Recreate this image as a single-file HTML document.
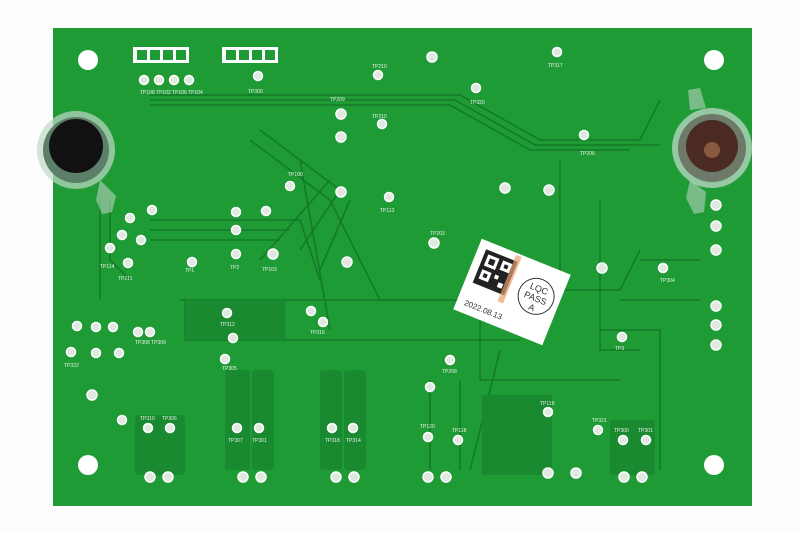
<!DOCTYPE html>
<html><head><style>
html,body{margin:0;padding:0;background:#fff;}
svg{display:block}
text{font-family:"Liberation Sans",sans-serif}
</style></head><body>
<svg width="800" height="533" viewBox="0 0 800 533" xmlns="http://www.w3.org/2000/svg">
<rect width="800" height="533" fill="#fdfdfd"/>
<rect x="53" y="28" width="699" height="478" fill="#1f9b36"/>
<g fill="none" stroke="#147a28" stroke-width="1.6">
<path d="M150 95 L460 95 L540 140 L640 140 L660 100"/>
<path d="M150 100 L455 100 L535 145 L660 145"/>
<path d="M150 105 L450 105 L530 150 L630 150"/>
<path d="M330 180 L260 260 M340 190 L300 250 M350 200 L320 270 M300 160 L330 330"/>
<path d="M150 220 L300 220 L320 280 M150 230 L290 230 M150 240 L280 240"/>
<path d="M260 130 L340 190 M250 140 L330 200 L380 300 L480 300"/>
<path d="M180 300 L480 300 L480 380 L620 380 M185 300 L185 340 L520 340"/>
<path d="M560 160 L560 290 L620 290 L640 250 M600 200 L600 350 L640 350"/>
<path d="M430 380 L430 470 M460 380 L460 470 M500 350 L470 470"/>
<path d="M640 260 L700 260 M620 300 L700 300 M600 330 L660 330 L660 470"/>
<path d="M110 200 L110 260 L130 280 M100 200 L100 300"/>
</g>
<g fill="#198a30">
<rect x="185" y="300" width="100" height="40"/>
<rect x="482" y="395" width="70" height="80"/>
<rect x="225" y="370" width="25" height="100" rx="3"/>
<rect x="252" y="370" width="22" height="100" rx="3"/>
<rect x="320" y="370" width="22" height="100" rx="3"/>
<rect x="344" y="370" width="22" height="100" rx="3"/>
<rect x="135" y="415" width="50" height="60" rx="3"/>
<rect x="610" y="420" width="45" height="55" rx="3"/>
</g>
<g fill="#fff">
<circle cx="88" cy="60" r="10"/><circle cx="714" cy="60" r="10"/>
<circle cx="88" cy="465" r="10"/><circle cx="714" cy="465" r="10"/>
<rect x="133" y="47" width="56" height="16"/><rect x="222" y="47" width="56" height="16"/>
</g>
<g fill="#1f9b36"><rect x="137" y="50" width="10" height="10"/><rect x="150" y="50" width="10" height="10"/><rect x="163" y="50" width="10" height="10"/><rect x="176" y="50" width="10" height="10"/>
<rect x="226" y="50" width="10" height="10"/><rect x="239" y="50" width="10" height="10"/><rect x="252" y="50" width="10" height="10"/><rect x="265" y="50" width="10" height="10"/></g>
<g fill="#dfe9df" stroke="#fff" stroke-width="1.5">
<circle cx="144" cy="80" r="4.5"/><circle cx="159" cy="80" r="4.5"/><circle cx="174" cy="80" r="4.5"/><circle cx="189" cy="80" r="4.5"/><circle cx="258" cy="76" r="4.5"/>
<circle cx="432" cy="57" r="5"/><circle cx="557" cy="52" r="4.5"/><circle cx="476" cy="88" r="4.5"/><circle cx="378" cy="75" r="4.5"/>
<circle cx="341" cy="114" r="5"/><circle cx="341" cy="137" r="5"/><circle cx="382" cy="124" r="4.5"/><circle cx="341" cy="192" r="5"/><circle cx="389" cy="197" r="4.5"/>
<circle cx="290" cy="186" r="4.5"/><circle cx="236" cy="212" r="4.5"/><circle cx="266" cy="211" r="4.5"/><circle cx="236" cy="230" r="4.5"/><circle cx="273" cy="254" r="5"/><circle cx="236" cy="254" r="4.5"/><circle cx="192" cy="262" r="4.5"/>
<circle cx="152" cy="210" r="4.5"/><circle cx="130" cy="218" r="4.5"/><circle cx="122" cy="235" r="4.5"/><circle cx="141" cy="240" r="4.5"/><circle cx="110" cy="248" r="4.5"/><circle cx="128" cy="263" r="4.5"/>
<circle cx="347" cy="262" r="5"/><circle cx="434" cy="243" r="5"/><circle cx="505" cy="188" r="5"/><circle cx="584" cy="135" r="4.5"/><circle cx="602" cy="268" r="5"/><circle cx="663" cy="268" r="4.5"/>
<circle cx="227" cy="313" r="4.5"/><circle cx="311" cy="311" r="4.5"/><circle cx="323" cy="322" r="4.5"/><circle cx="233" cy="338" r="4.5"/><circle cx="225" cy="359" r="4.5"/>
<circle cx="77" cy="326" r="4.5"/><circle cx="96" cy="327" r="4.5"/><circle cx="113" cy="327" r="4.5"/><circle cx="138" cy="332" r="4.5"/><circle cx="150" cy="332" r="4.5"/><circle cx="71" cy="352" r="4.5"/><circle cx="96" cy="353" r="4.5"/><circle cx="119" cy="353" r="4.5"/>
<circle cx="450" cy="360" r="4.5"/><circle cx="430" cy="387" r="4.5"/><circle cx="622" cy="337" r="4.5"/><circle cx="122" cy="420" r="4.5"/>
<circle cx="148" cy="428" r="4.5"/><circle cx="170" cy="428" r="4.5"/><circle cx="237" cy="428" r="4.5"/><circle cx="259" cy="428" r="4.5"/><circle cx="332" cy="428" r="4.5"/><circle cx="353" cy="428" r="4.5"/>
<circle cx="428" cy="437" r="4.5"/><circle cx="458" cy="440" r="4.5"/><circle cx="548" cy="412" r="4.5"/><circle cx="598" cy="430" r="4.5"/><circle cx="623" cy="440" r="4.5"/><circle cx="646" cy="440" r="4.5"/>
<circle cx="150" cy="477" r="5"/><circle cx="168" cy="477" r="5"/><circle cx="243" cy="477" r="5"/><circle cx="261" cy="477" r="5"/><circle cx="336" cy="477" r="5"/><circle cx="354" cy="477" r="5"/><circle cx="428" cy="477" r="5"/><circle cx="446" cy="477" r="5"/><circle cx="548" cy="473" r="5"/><circle cx="576" cy="473" r="5"/><circle cx="624" cy="477" r="5"/><circle cx="642" cy="477" r="5"/>
<circle cx="716" cy="205" r="5"/><circle cx="716" cy="226" r="5"/><circle cx="716" cy="250" r="5"/><circle cx="716" cy="306" r="5"/><circle cx="716" cy="325" r="5"/><circle cx="716" cy="345" r="5"/><circle cx="549" cy="190" r="5"/><circle cx="92" cy="395" r="5"/>
</g>
<g font-size="5" fill="#e8f0e8">
<text x="248" y="93">TP300</text><text x="372" y="68">TP210</text><text x="548" y="67">TP317</text><text x="330" y="101">TP209</text><text x="372" y="118">TP210</text>
<text x="470" y="104">TP320</text><text x="380" y="212">TP113</text><text x="580" y="155">TP206</text><text x="288" y="176">TP100</text><text x="660" y="282">TP304</text>
<text x="262" y="271">TP103</text><text x="230" y="269">TP2</text><text x="185" y="272">TP1</text><text x="118" y="280">TP211</text><text x="100" y="268">TP114</text>
<text x="430" y="235">TP203</text><text x="615" y="350">TP3</text><text x="442" y="373">TP208</text><text x="135" y="344">TP308 TP309</text><text x="64" y="367">TP322</text>
<text x="140" y="420">TP310</text><text x="162" y="420">TP306</text><text x="228" y="442">TP307</text><text x="252" y="442">TP301</text><text x="325" y="442">TP318</text><text x="346" y="442">TP314</text>
<text x="420" y="428">TP120</text><text x="452" y="432">TP118</text><text x="540" y="405">TP119</text><text x="592" y="422">TP321</text><text x="614" y="432">TP300</text><text x="638" y="432">TP301</text>
<text x="220" y="326">TP312</text><text x="310" y="334">TP316</text><text x="222" y="370">TP305</text><text x="690" y="176">TP205</text><text x="140" y="94">TP108 TP102 TP106 TP104</text>
</g>
<g>
<path d="M100 180 L116 196 L112 212 L102 214 L96 200 Z" fill="#b8d2c0" opacity="0.6"/>
<circle cx="76" cy="150" r="39" fill="#bfd8c8" opacity="0.7"/>
<circle cx="76" cy="150" r="33" fill="#5c7f69"/>
<circle cx="76" cy="146" r="27" fill="#111"/>
<path d="M690 180 L706 192 L704 212 L694 214 L686 198 Z" fill="#b8d2c0" opacity="0.6"/>
<path d="M690 110 L688 90 L700 88 L706 108 Z" fill="#b8d2c0" opacity="0.6"/>
<circle cx="712" cy="148" r="40" fill="#bfd8c8" opacity="0.75"/>
<circle cx="712" cy="148" r="34" fill="#6d7a6a"/>
<circle cx="712" cy="146" r="26" fill="#4a2a22"/>
<circle cx="712" cy="150" r="8" fill="#8a5a40"/>
</g>
<g transform="translate(512 292) rotate(22)">
<rect x="-48" y="-38" width="96" height="76" fill="#fff"/>
<rect x="-40" y="-30" width="34" height="36" fill="#222"/>
<rect x="-36" y="-26" width="12" height="12" fill="#fff"/><rect x="-33" y="-23" width="6" height="6" fill="#222"/>
<rect x="-20" y="-26" width="10" height="10" fill="#fff"/><rect x="-17" y="-23" width="4" height="4" fill="#222"/>
<rect x="-36" y="-10" width="10" height="10" fill="#fff"/><rect x="-33" y="-7" width="4" height="4" fill="#222"/>
<rect x="-22" y="-10" width="4" height="4" fill="#fff"/><rect x="-16" y="-4" width="5" height="5" fill="#fff"/>
<rect x="-10" y="-36" width="6" height="50" fill="#e8a070" opacity="0.7"/>
<circle cx="24" cy="-5" r="18" fill="none" stroke="#333"/>
<text x="24" y="-10" font-size="9" text-anchor="middle" fill="#333">LQC</text>
<text x="24" y="0" font-size="9" text-anchor="middle" fill="#333">PASS</text>
<text x="24" y="10" font-size="9" text-anchor="middle" fill="#333">A</text>
<text x="-40" y="30" font-size="8" fill="#333">2022.08.13</text>
</g>
</svg>
</body></html>
